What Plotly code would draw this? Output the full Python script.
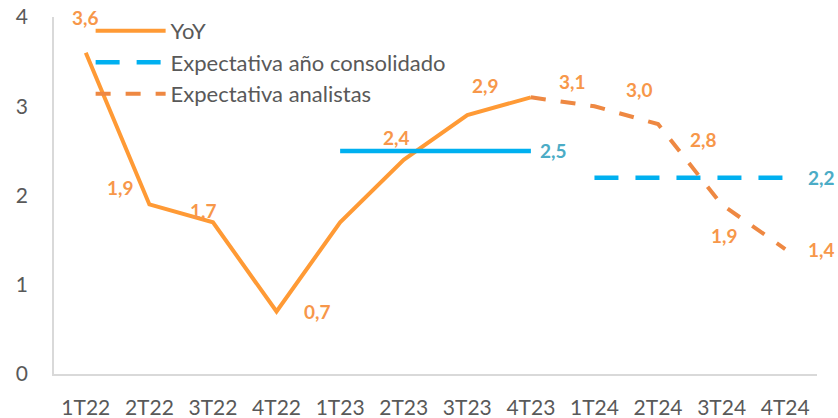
import plotly.graph_objects as go

# data
quarters = ['1T22', '2T22', '3T22', '4T22', '1T23', '2T23', '3T23', '4T23',
            '1T24', '2T24', '3T24', '4T24']
yoy = [3.6, 1.9, 1.7, 0.7, 1.7, 2.4, 2.9, 3.1, None, None, None, None]
consolidado_23 = [None, None, None, None, 2.5, 2.5, 2.5, 2.5, None, None, None, None]
consolidado_24 = [None, None, None, None, None, None, None, None, 2.2, 2.2, 2.2, 2.2]
analistas = [None, None, None, None, None, None, None, 3.1, 3.0, 2.8, 1.9, 1.4]

ORANGE = '#FF9A35'
ORANGE_DARK = '#EE8842'
LABEL_ORANGE = '#F7974A'
BLUE = '#00B0F0'
LABEL_BLUE = '#4BACC6'
GREY = '#595959'
FONT = 'Lato'
LBL = 19

fig = go.Figure()

fig.add_trace(go.Scatter(x=quarters, y=yoy, name='YoY', mode='lines',
                         line=dict(color=ORANGE, width=4)))
fig.add_trace(go.Scatter(x=quarters, y=consolidado_23, name='Expectativa año consolidado',
                         mode='lines', showlegend=False,
                         line=dict(color=BLUE, width=4.5)))
fig.add_trace(go.Scatter(x=quarters, y=consolidado_24, name='Expectativa año consolidado',
                         mode='lines', line=dict(color=BLUE, width=4.5, dash='24px,17px')))
fig.add_trace(go.Scatter(x=quarters, y=analistas, name='Expectativa analistas', mode='lines',
                         line=dict(color=ORANGE_DARK, width=4, dash='15px,15px')))


def fmt(v):
    return f'{v:.1f}'.replace('.', ',')


# data labels (offsets in px, excel-like placement)
yoy_off = [(0, 35), (-29, 17), (-9, 12), (41, 0), (0, 0), (-7, 22), (18, 30), (42, 16)]
for i, (q, v) in enumerate(zip(quarters, yoy)):
    if v is None or i == 4:
        continue
    dx, dy = yoy_off[i]
    fig.add_annotation(x=q, y=v, text=fmt(v), showarrow=False, xshift=dx, yshift=dy,
                       font=dict(family=FONT, size=LBL, color=LABEL_ORANGE, weight='bold'))

ana_off = {8: (45, 17), 9: (45, -15), 10: (3, -31), 11: (36, 0)}
for i, (dx, dy) in ana_off.items():
    v = analistas[i]
    fig.add_annotation(x=quarters[i], y=v, text=fmt(v), showarrow=False, xshift=dx, yshift=dy,
                       font=dict(family=FONT, size=LBL, color=LABEL_ORANGE, weight='bold'))

for q, v, dx in [(quarters[7], consolidado_23[7], 23), (quarters[11], consolidado_24[11], 36)]:
    fig.add_annotation(x=q, y=v, text=fmt(v), showarrow=False, xshift=dx, yshift=0,
                       font=dict(family=FONT, size=LBL, color=LABEL_BLUE, weight='bold'))

fig.update_layout(
    width=838, height=418,
    margin=dict(l=54, r=21, t=17, b=44, autoexpand=False),
    paper_bgcolor='white', plot_bgcolor='white',
    font=dict(family=FONT, size=21, color=GREY),
    showlegend=True,
    legend=dict(x=0.048, y=1.02, xanchor='left', yanchor='top',
                bgcolor='rgba(0,0,0,0)', font=dict(size=22, color=GREY),
                itemwidth=70, tracegroupgap=0),
)
fig.update_xaxes(range=[-0.5, 11.5], showgrid=False, showline=True, linecolor='#D9D9D9',
                 linewidth=1.5, ticks='', ticklabelstandoff=14,
                 tickfont=dict(family=FONT, size=21, color=GREY))
fig.update_yaxes(range=[0, 4], dtick=1, showgrid=False, showline=True, linecolor='#D9D9D9',
                 linewidth=1.5, ticks='', zeroline=False, ticklabelstandoff=20,
                 tickfont=dict(family=FONT, size=21, color=GREY))

# page body has a default 8px margin, drop it so the figure fills the window
fig.write_html('out.html', config={'displayModeBar': False},
               post_script="document.body.style.margin='0';")
